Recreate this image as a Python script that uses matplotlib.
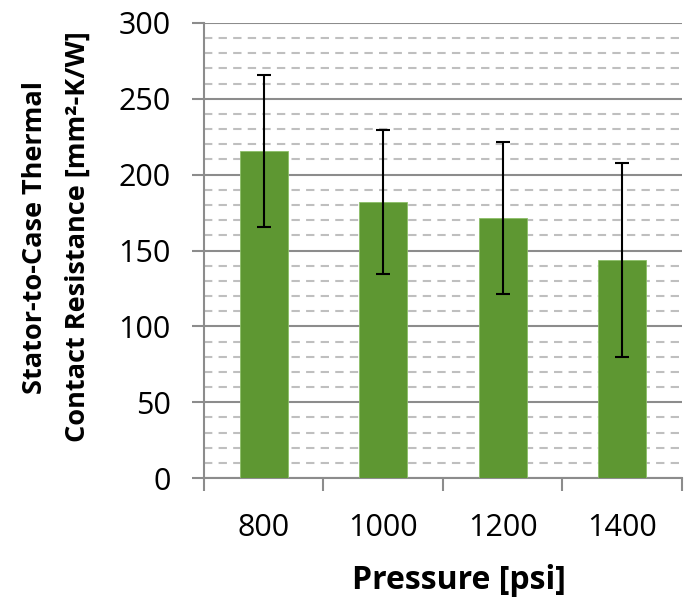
import matplotlib
matplotlib.use("Agg")
import matplotlib.pyplot as plt
from matplotlib.ticker import MultipleLocator, FixedLocator

# Data
pressures = ["800", "1000", "1200", "1400"]
resistance = [215.5, 182, 171.5, 144]
errors = [50, 47.5, 50, 64]

plt.rcParams["font.family"] = ["Open Sans", "DejaVu Sans"]

fig = plt.figure(figsize=(6.84, 5.97), dpi=100)
ax = fig.add_axes([0.298, 0.1993, 0.699, 0.7622])

x = list(range(len(pressures)))
ax.bar(x, resistance, width=0.4, color="#5e9732", edgecolor="#8cbf68",
       linewidth=0.6, zorder=3)
ax.errorbar(x, resistance, yerr=errors, fmt="none", ecolor="black",
            elinewidth=1.5, capsize=5, capthick=1.5, zorder=4)

ax.set_xlim(-0.5, 3.5)
ax.set_ylim(0, 300)

# y grid: solid major every 50, dashed minor every 10
ax.yaxis.set_major_locator(MultipleLocator(50))
ax.yaxis.set_minor_locator(MultipleLocator(10))
ax.grid(which="major", axis="y", color="#8c8c8c", linewidth=1.5, zorder=1)
ax.grid(which="minor", axis="y", color="#bfbfbf", linewidth=1.5,
        linestyle=(0, (4, 3)), zorder=1)

# x ticks at category boundaries, labels at centres
ax.xaxis.set_major_locator(FixedLocator([-0.5, 0.5, 1.5, 2.5, 3.5]))
ax.xaxis.set_minor_locator(FixedLocator(x))
ax.set_xticklabels([], minor=False)
ax.set_xticklabels(pressures, minor=True)
ax.tick_params(axis="x", which="major", length=9, width=1.5, color="#8c8c8c")
ax.tick_params(axis="x", which="minor", length=0, pad=25, labelsize=22)
ax.tick_params(axis="y", which="major", length=9, width=1.5, color="#8c8c8c",
               labelsize=22, pad=15)
ax.tick_params(axis="y", which="minor", length=0)

for side in ["top", "right"]:
    ax.spines[side].set_visible(False)
for side in ["left", "bottom"]:
    ax.spines[side].set_color("#8c8c8c")
    ax.spines[side].set_linewidth(1.5)

ax.set_xlabel("Pressure [psi]", fontsize=23, fontweight="bold")
ax.xaxis.set_label_coords(0.533, -0.19)

# two-line y label, placed as figure text
fig.text(0.082, 0.603, "Stator-to-Case Thermal\nContact Resistance [mm²-K/W]",
         rotation=90, ha="center", va="center", fontsize=19.5,
         fontweight="bold", linespacing=1.85, multialignment="center")

plt.savefig("out.png", dpi=100)
plt.close()
